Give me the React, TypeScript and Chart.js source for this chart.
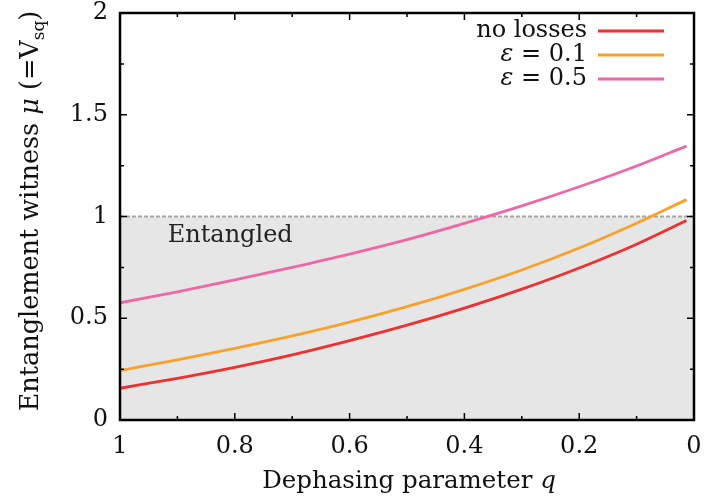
import { useEffect, useRef } from "react";
import { Chart, registerables } from "chart.js";

Chart.register(...registerables);

// Dephasing parameter q (axis runs from 1 down to 0)
const qValues = [1, 0.9, 0.8, 0.7, 0.6, 0.5, 0.4, 0.3, 0.2, 0.1, 0.013];
// Entanglement witness mu for each loss setting
const noLosses = [0.156, 0.205, 0.259, 0.32, 0.39, 0.466, 0.55, 0.643, 0.747, 0.864, 0.98];
const eps01 = [0.243, 0.296, 0.352, 0.413, 0.481, 0.557, 0.642, 0.737, 0.845, 0.967, 1.083];
const eps05 = [0.576, 0.63, 0.688, 0.75, 0.815, 0.886, 0.966, 1.052, 1.146, 1.248, 1.346];

const xTicks = [1, 0.8, 0.6, 0.4, 0.2, 0];
const xMinorTicks = [0.9, 0.7, 0.5, 0.3, 0.1];
const yTicks = [0, 0.5, 1, 1.5, 2];
const yMinorTicks = [0.25, 0.75, 1.25, 1.75];

const entangledThreshold = 1;
const seriesColors = ["#ee3130", "#f9a12b", "#ee67a7"];

const SERIF = "'DejaVu Serif', serif";
const FONT_SIZE = 24;

type Run = { text: string; italic?: boolean; sub?: boolean };

function drawRuns(ctx: CanvasRenderingContext2D, runs: Run[], size: number, align: "center" | "right") {
  const fontFor = (r: Run) =>
    `${r.italic ? "italic " : ""}${r.sub ? Math.round(size * 0.68) : size}px ${SERIF}`;
  let total = 0;
  const widths = runs.map((r) => {
    ctx.font = fontFor(r);
    const w = ctx.measureText(r.text).width;
    total += w;
    return w;
  });
  let x = align === "center" ? -total / 2 : -total;
  runs.forEach((r, i) => {
    ctx.font = fontFor(r);
    ctx.fillText(r.text, x, r.sub ? size * 0.25 : 0);
    x += widths[i];
  });
}

const decorPlugin = {
  id: "decor",
  afterDatasetsDraw(chart: any) {
    const { ctx, chartArea, scales } = chart;
    const xs = scales.x;
    const ys = scales.y;
    const { left, right, top, bottom } = chartArea;
    ctx.save();

    // "Entangled" region label
    ctx.fillStyle = "#222";
    ctx.textAlign = "center";
    ctx.textBaseline = "alphabetic";
    ctx.font = `${FONT_SIZE}px ${SERIF}`;
    ctx.fillText("Entangled", xs.getPixelForValue(0.808), ys.getPixelForValue(0.875));

    // frame
    ctx.strokeStyle = "#000";
    ctx.lineWidth = 2.5;
    ctx.strokeRect(left, top, right - left, bottom - top);

    // inward ticks on all four sides
    ctx.lineWidth = 1.5;
    ctx.beginPath();
    const xt = (v: number, len: number) => {
      const px = xs.getPixelForValue(v);
      ctx.moveTo(px, bottom);
      ctx.lineTo(px, bottom - len);
      ctx.moveTo(px, top);
      ctx.lineTo(px, top + len);
    };
    const yt = (v: number, len: number) => {
      const py = ys.getPixelForValue(v);
      ctx.moveTo(left, py);
      ctx.lineTo(left + len, py);
      ctx.moveTo(right, py);
      ctx.lineTo(right - len, py);
    };
    xTicks.forEach((v) => xt(v, 7));
    xMinorTicks.forEach((v) => xt(v, 4));
    yTicks.forEach((v) => yt(v, 7));
    yMinorTicks.forEach((v) => yt(v, 4));
    ctx.stroke();

    // legend
    const legendRows: Run[][] = [
      [{ text: "no losses" }],
      [{ text: "ε", italic: true }, { text: " = 0.1" }],
      [{ text: "ε", italic: true }, { text: " = 0.5" }],
    ];
    legendRows.forEach((runs, i) => {
      const y = 31 + i * 24;
      ctx.save();
      ctx.translate(587, y + 6);
      ctx.fillStyle = "#111";
      ctx.textAlign = "left";
      drawRuns(ctx, runs, FONT_SIZE, "right");
      ctx.restore();
      ctx.strokeStyle = seriesColors[i];
      ctx.lineWidth = 2.8;
      ctx.beginPath();
      ctx.moveTo(598, y);
      ctx.lineTo(664, y);
      ctx.stroke();
    });

    // axis titles
    ctx.fillStyle = "#111";
    ctx.textAlign = "left";
    ctx.save();
    ctx.translate((left + right) / 2 + 2, 488);
    drawRuns(ctx, [{ text: "Dephasing parameter " }, { text: "q", italic: true }], 24.5, "center");
    ctx.restore();

    ctx.save();
    ctx.translate(38, 211);
    ctx.rotate(-Math.PI / 2);
    drawRuns(
      ctx,
      [
        { text: "Entanglement witness " },
        { text: "μ", italic: true },
        { text: " (=V" },
        { text: "sq", sub: true },
        { text: ")" },
      ],
      25.5,
      "center"
    );
    ctx.restore();

    ctx.restore();
  },
};

export default function App() {
  const canvasRef = useRef<HTMLCanvasElement | null>(null);

  useEffect(() => {
    if (!canvasRef.current) return;
    const toPoints = (vals: number[]) => qValues.map((q, i) => ({ x: q, y: vals[i] }));
    const lineStyle = (color: string) => ({
      borderColor: color,
      backgroundColor: color,
      borderWidth: 2.8,
      pointRadius: 0,
      cubicInterpolationMode: "monotone" as const,
      fill: false,
    });
    const chart = new Chart(canvasRef.current, {
      type: "line",
      data: {
        datasets: [
          { label: "no losses", data: toPoints(noLosses), ...lineStyle(seriesColors[0]) },
          { label: "ε = 0.1", data: toPoints(eps01), ...lineStyle(seriesColors[1]) },
          { label: "ε = 0.5", data: toPoints(eps05), ...lineStyle(seriesColors[2]) },
          {
            label: "entangled",
            data: [
              { x: 1, y: entangledThreshold },
              { x: 0, y: entangledThreshold },
            ],
            borderColor: "#a6a6a6",
            borderWidth: 2,
            borderDash: [4, 2],
            backgroundColor: "#e6e6e6",
            pointRadius: 0,
            fill: "origin",
          },
        ],
      },
      options: {
        animation: false,
        responsive: true,
        maintainAspectRatio: false,
        layout: { padding: { left: 0, right: 13, top: 13, bottom: 0 } },
        plugins: { legend: { display: false }, tooltip: { enabled: false } },
        scales: {
          x: {
            type: "linear",
            reverse: true,
            min: 0,
            max: 1,
            grid: { display: false, drawTicks: false },
            border: { display: false },
            afterBuildTicks: (s: any) => {
              s.ticks = xTicks.map((v) => ({ value: v }));
            },
            afterFit: (s: any) => {
              s.height = 84;
              s.paddingLeft = 0;
              s.paddingRight = 0;
            },
            ticks: {
              autoSkip: false,
              maxRotation: 0,
              padding: 12,
              color: "#111",
              font: { family: SERIF, size: FONT_SIZE },
              callback: (v: any) => String(v),
            },
          },
          y: {
            type: "linear",
            min: 0,
            max: 2,
            grid: { display: false, drawTicks: false },
            border: { display: false },
            afterBuildTicks: (s: any) => {
              s.ticks = yTicks.map((v) => ({ value: v }));
            },
            afterFit: (s: any) => {
              s.width = 120;
              s.paddingTop = 0;
              s.paddingBottom = 0;
            },
            ticks: {
              autoSkip: false,
              padding: 12,
              color: "#111",
              font: { family: SERIF, size: FONT_SIZE },
              callback: (v: any) => String(v),
            },
          },
        },
      },
      plugins: [decorPlugin],
    });
    return () => chart.destroy();
  }, []);

  return (
    <div style={{ position: "fixed", left: 0, top: 0, width: 707, height: 504, background: "#fff" }}>
      <canvas ref={canvasRef} />
    </div>
  );
}
